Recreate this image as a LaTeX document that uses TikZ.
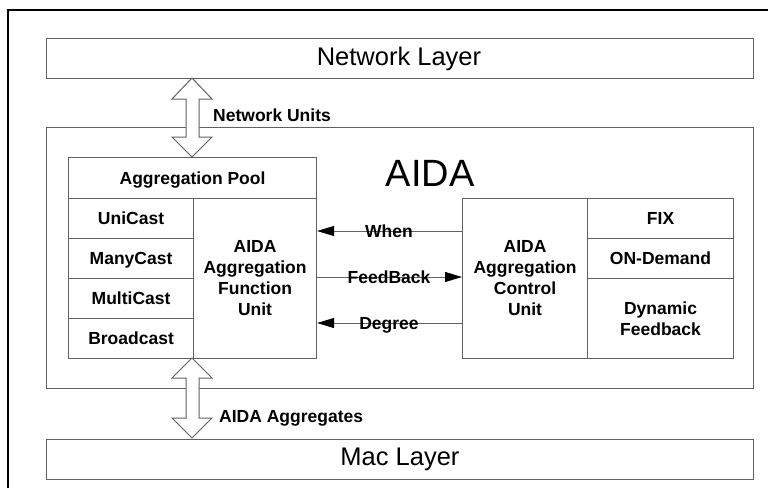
\documentclass[tikz,border=0pt]{standalone}
\usepackage{fontspec}
\setmainfont{Liberation Sans}
\usetikzlibrary{arrows.meta}
\definecolor{boxgray}{gray}{0.38}
\begin{document}
\begin{tikzpicture}[x=1pt,y=-1pt,
  box/.style={draw=boxgray, line width=1.1pt, inner sep=0pt, anchor=north west},
  bl/.style={font=\fontsize{17.5}{21}\selectfont\bfseries},
  one/.style={bl, text height=12.6pt, text depth=0pt},
  multi/.style={bl, align=center},
  layertxt/.style={font=\fontsize{25.5}{30}\selectfont, anchor=base},
  flow/.style={draw=boxgray, line width=1pt, -{Triangle[length=17pt,width=10pt,color=black]}},
  hollow/.style={draw=boxgray, line width=1pt, fill=white, line join=miter},
  lab/.style={bl, anchor=base, inner sep=0pt}
]
\useasboundingbox (0,0) rectangle (768,488);
% outer frame (left and top visible)
\coordinate (fa) at (8,488);
\coordinate (fb) at (8,10);
\coordinate (fc) at (768,10);
\draw[line width=2pt] (fa) -- (fb) -- (fc);

% layers
\node[box, minimum width=707pt, minimum height=40pt] (net) at (46,38) {};
\node[layertxt] (nettxt) at (399,65) {Network Layer};
\node[box, minimum width=707pt, minimum height=40pt] (mac) at (46,439) {};
\node[layertxt] (mactxt) at (400,465) {Mac Layer};

% AIDA box
\node[box, minimum width=707pt, minimum height=261pt] (aida) at (46,127) {};
\node[font=\fontsize{38}{44}\selectfont, inner sep=0pt] (aidatxt) at (430,173) {AIDA};

% left block
\node[box, one, minimum width=248pt, minimum height=41pt] (pool) at (68,157) {Aggregation Pool};
\node[box, one, minimum width=125pt, minimum height=40pt] (uni) at (68,198) {UniCast};
\node[box, one, minimum width=125pt, minimum height=40pt] (many) at (68,238) {ManyCast};
\node[box, one, minimum width=125pt, minimum height=40pt] (multic) at (68,278) {MultiCast};
\node[box, one, minimum width=125pt, minimum height=40pt] (broad) at (68,318) {Broadcast};
\node[box, multi, minimum width=123pt, minimum height=160pt] (afu) at (193,198) {AIDA\\Aggregation\\Function\\Unit};

% right block
\node[box, multi, minimum width=125pt, minimum height=160pt] (acu) at (462,198) {AIDA\\Aggregation\\Control\\Unit};
\node[box, one, minimum width=146pt, minimum height=40pt] (fix) at (587,198) {FIX};
\node[box, one, minimum width=146pt, minimum height=40pt] (ond) at (587,238) {ON-Demand};
\node[box, multi, minimum width=146pt, minimum height=80pt] (dyn) at (587,278) {Dynamic\\Feedback};

% connectors between units
\coordinate (yw) at (0,231);
\coordinate (yf) at (0,277);
\coordinate (yd) at (0,323);
\draw[flow] (acu.west |- yw) -- (afu.east |- yw);
\draw[flow] (afu.east |- yf) -- (acu.west |- yf);
\draw[flow] (acu.west |- yd) -- (afu.east |- yd);
\node[lab] (lw) at (389,237) {When};
\node[lab] (lf) at (389,283) {FeedBack};
\node[lab] (ld) at (389,329) {Degree};

% hollow double arrows
\draw[hollow] (192,78) -- (212,99) -- (199,99) -- (199,137) -- (212,137) -- (192,157)
  -- (172,137) -- (186,137) -- (186,99) -- (172,99) -- cycle;
\node[lab, anchor=base west] (nu) at (213,121) {Network Units};
\draw[hollow] (192,358) -- (212,378) -- (199,378) -- (199,418) -- (212,418) -- (192,438)
  -- (172,418) -- (186,418) -- (186,378) -- (172,378) -- cycle;
\node[lab, anchor=base west] (aa) at (219,422) {AIDA Aggregates};
\end{tikzpicture}
\end{document}
